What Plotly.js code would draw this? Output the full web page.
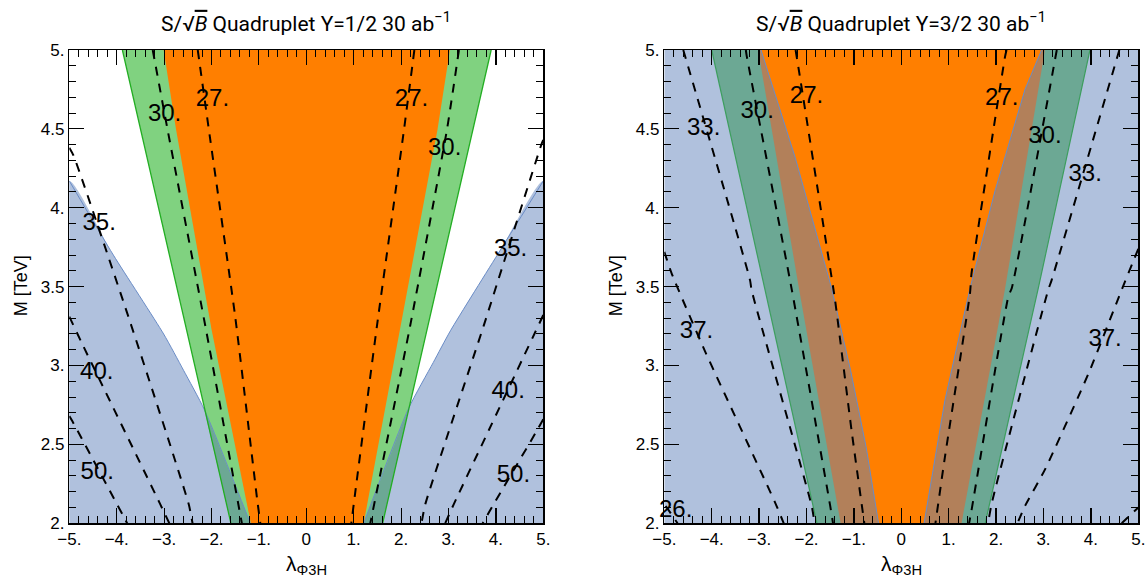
<!DOCTYPE html>
<html><head><meta charset="utf-8">
<script src="https://cdn.plot.ly/plotly-3.0.1.min.js"></script>
<style>html,body{margin:0;padding:0;background:#fff}#chart{width:1146px;height:581px}</style>
</head><body><div id="chart"></div>
<script>
// ---------- axes ----------
const xRange = [-5, 5];
const yRange = [2, 5];
const xTickVals = [-5, -4, -3, -2, -1, 0, 1, 2, 3, 4, 5];
const xTickText = ['−5.', '−4.', '−3.', '−2.', '−1.', '0', '1.', '2.', '3.', '4.', '5.'];
const yTickVals = [2, 2.5, 3, 3.5, 4, 4.5, 5];
const yTickText = ['2.', '2.5', '3.', '3.5', '4.', '4.5', '5.'];
const titles = ['S/√<span style="text-decoration:overline"><i>B</i></span> Quadruplet Y=1/2 30 ab<sup>−1</sup>',
                'S/√<span style="text-decoration:overline"><i>B</i></span> Quadruplet Y=3/2 30 ab<sup>−1</sup>'];
const xLabel = 'λ<sub>Φ3H</sub>';
const yLabel = 'M [TeV]';

// ---------- panel 1 : Y=1/2 ----------
const p1BlueLx = [-5, -4.07, -3.01, -2.59, -2.15, -1.18];
const p1BlueLy = [4.17, 3.70, 3.20, 2.97, 2.72, 2.0];
const p1BlueRx = [5, 4.09, 3.04, 2.68, 2.16, 1.21];
const p1BlueRy = [4.17, 3.73, 3.22, 3.02, 2.73, 2.0];
const p1GreenLx = [-3.88, -1.59];
const p1GreenLy = [5, 2];
const p1GreenRx = [3.90, 1.61];
const p1GreenRy = [5, 2];
const p1TealLx = [-2.15, -1.18, -1.59];
const p1TealLy = [2.72, 2.0, 2.0];
const p1TealRx = [2.16, 1.21, 1.61];
const p1TealRy = [2.73, 2.0, 2.0];
const p1OrangeLx = [-3.01, -2.75, -2.0, -1.17];
const p1OrangeLy = [5, 4.5, 3.23, 2.0];
const p1OrangeRx = [3.03, 2.77, 1.98, 1.21];
const p1OrangeRy = [5, 4.5, 3.23, 2.0];

// contours panel 1
const p1c27Lx = [-2.29, -2.03, -1.50, -1.04, -0.97];
const p1c27Ly = [5, 4.44, 3.31, 2.16, 2.0];
const p1c27Rx = [2.28, 2.05, 1.49, 1.03, 0.95];
const p1c27Ry = [5, 4.47, 3.25, 2.19, 2.0];
const p1c30Lx = [-3.24, -2.93, -2.13, -1.36];
const p1c30Ly = [5, 4.5, 3.25, 2.0];
const p1c30Rx = [3.22, 2.97, 2.19, 1.35];
const p1c30Ry = [5, 4.5, 3.25, 2.0];
const p1c35Lx = [-5, -4.91, -3.71, -2.48, -2.40];
const p1c35Ly = [4.38, 4.33, 3.27, 2.12, 2.0];
const p1c35Rx = [5, 4.97, 3.74, 2.51, 2.43];
const p1c35Ry = [4.43, 4.41, 3.25, 2.12, 2.0];
const p1c40Lx = [-5, -4.70, -3.08, -2.89];
const p1c40Ly = [3.31, 3.12, 2.12, 2.0];
const p1c40Rx = [5, 3.85, 3.11, 2.93];
const p1c40Ry = [3.32, 2.59, 2.12, 2.0];
const p1c50Lx = [-5, -4.94, -3.85, -3.78];
const p1c50Ly = [2.68, 2.65, 2.04, 2.0];
const p1c50Rx = [5, 4.87, 3.95, 3.72];
const p1c50Ry = [2.66, 2.59, 2.12, 2.0];
const p1LabText = ['27.', '27.', '30.', '30.', '35.', '35.', '40.', '40.', '50.', '50.'];
const p1LabX = [-1.98, 2.22, -2.99, 2.92, -4.37, 4.31, -4.42, 4.26, -4.41, 4.37];
const p1LabY = [4.68, 4.68, 4.59, 4.37, 3.90, 3.73, 2.95, 2.83, 2.32, 2.30];

// ---------- panel 2 : Y=3/2 ----------
const p2GreenLx = [-4.00, -2.88, -1.78];
const p2GreenLy = [5, 3.49, 2.0];
const p2GreenRx = [3.98, 2.89, 1.77];
const p2GreenRy = [5, 3.49, 2.0];
const p2OrangeLx = [-3.02, -2.16, -1.28];
const p2OrangeLy = [5, 3.49, 2.0];
const p2OrangeRx = [3.03, 2.19, 1.27];
const p2OrangeRy = [5, 3.49, 2.0];
const p2BlueLx = [-2.96, -2.24, -1.47, -1.07, -0.74, -0.48];
const p2BlueLy = [5, 4.32, 3.49, 2.97, 2.48, 2.0];
const p2BlueRx = [2.96, 2.61, 1.98, 1.45, 0.92, 0.70, 0.48];
const p2BlueRy = [5, 4.75, 4.11, 3.49, 2.78, 2.40, 2.0];

// contours panel 2
const p2c27Lx = [-2.23, -2.16, -1.54, -1.40, -1.05, -0.78];
const p2c27Ly = [5, 4.87, 3.69, 3.42, 2.59, 2.0];
const p2c27Rx = [2.22, 2.19, 1.48, 1.45, 0.92, 0.72];
const p2c27Ry = [5, 4.96, 3.58, 3.46, 2.42, 2.0];
const p2c30Lx = [-3.28, -3.26, -2.31, -1.50, -1.44];
const p2c30Ly = [5, 4.96, 3.48, 2.11, 2.0];
const p2c30Rx = [3.28, 2.33, 2.26, 1.48, 1.43];
const p2c30Ry = [5, 3.49, 3.44, 2.08, 2.0];
const p2c33Lx = [-4.60, -3.19, -3.16, -1.89, -1.83];
const p2c33Ly = [5, 3.54, 3.48, 2.11, 2.0];
const p2c33Rx = [4.60, 3.17, 3.10, 1.91, 1.83];
const p2c33Ry = [5, 3.54, 3.48, 2.13, 2.0];
const p2c37Lx = [-5, -4.84, -4.14, -2.66, -2.48];
const p2c37Ly = [3.72, 3.58, 3.09, 2.13, 2.0];
const p2c37Rx = [5, 4.65, 3.95, 3.03, 2.61, 2.45];
const p2c37Ry = [3.74, 3.48, 2.95, 2.34, 2.11, 2.0];
const p2c26Lx = [-4.97, -4.72];
const p2c26Ly = [2.11, 2.0];
const p2c26Rx = [4.65, 5];
const p2c26Ry = [2.0, 2.10];
const p2LabText = ['27.', '27.', '30.', '30.', '33.', '33.', '37.', '37.', '26.'];
const p2LabX = [-2.00, 2.12, -3.04, 3.03, -4.17, 3.88, -4.32, 4.30, -4.76];
const p2LabY = [4.70, 4.69, 4.61, 4.45, 4.50, 4.21, 3.21, 3.16, 2.08];

// ---------- styles ----------
const C = {
  blue: '#b0c1dd', blueEdge: '#6a8cc6',
  green: '#80d280', greenEdge: '#22ad22', greenEdge2: '#3d9e5e',
  teal: '#6ca894', brown: '#b2805a', orange: '#ff7f00'
};
const FONT = 'Liberation Sans, Arial, sans-serif';

const traces = [];
function fillPoly(xs, ys, color, ax, shape) {
  traces.push({type: 'scatter', mode: 'lines', x: xs, y: ys, fill: 'toself', fillcolor: color,
    line: {width: 0, color: color, shape: shape || 'linear', smoothing: 0.6},
    hoverinfo: 'skip', showlegend: false, xaxis: ax[0], yaxis: ax[1]});
}
function edge(xs, ys, color, w, ax, shape) {
  traces.push({type: 'scatter', mode: 'lines', x: xs, y: ys,
    line: {width: w, color: color, shape: shape || 'linear', smoothing: 0.6},
    hoverinfo: 'skip', showlegend: false, xaxis: ax[0], yaxis: ax[1]});
}
function dashed(xs, ys, ax) {
  traces.push({type: 'scatter', mode: 'lines', x: xs, y: ys,
    line: {width: 2, color: 'black', dash: '9px,8px', shape: 'spline', smoothing: 0.5},
    hoverinfo: 'skip', showlegend: false, xaxis: ax[0], yaxis: ax[1]});
}
function labels(xs, ys, ts, ax) {
  traces.push({type: 'scatter', mode: 'text', x: xs, y: ys, text: ts, textposition: 'middle center',
    textfont: {family: FONT, size: 24, color: 'black'}, cliponaxis: false,
    hoverinfo: 'skip', showlegend: false, xaxis: ax[0], yaxis: ax[1]});
}
const rev = a => a.slice().reverse();

// ---- panel 1 ----
const A1 = ['x', 'y'];
fillPoly([xRange[0], ...p1BlueLx], [yRange[0], ...p1BlueLy], C.blue, A1, 'spline');
fillPoly([xRange[1], ...p1BlueRx], [yRange[0], ...p1BlueRy], C.blue, A1, 'spline');
fillPoly([...p1GreenLx, ...rev(p1GreenRx)], [...p1GreenLy, ...rev(p1GreenRy)], C.green, A1);
fillPoly(p1TealLx, p1TealLy, C.teal, A1);
fillPoly(p1TealRx, p1TealRy, C.teal, A1);
edge(p1BlueLx, p1BlueLy, C.blueEdge, 1, A1, 'spline');
edge(p1BlueRx, p1BlueRy, C.blueEdge, 1, A1, 'spline');
edge(p1GreenLx, p1GreenLy, C.greenEdge, 1.3, A1);
edge(p1GreenRx, p1GreenRy, C.greenEdge, 1.3, A1);
fillPoly([...p1OrangeLx, ...rev(p1OrangeRx)], [...p1OrangeLy, ...rev(p1OrangeRy)], C.orange, A1);
[[p1c27Lx, p1c27Ly], [p1c27Rx, p1c27Ry], [p1c30Lx, p1c30Ly], [p1c30Rx, p1c30Ry],
 [p1c35Lx, p1c35Ly], [p1c35Rx, p1c35Ry], [p1c40Lx, p1c40Ly], [p1c40Rx, p1c40Ry],
 [p1c50Lx, p1c50Ly], [p1c50Rx, p1c50Ry]].forEach(c => dashed(c[0], c[1], A1));
labels(p1LabX, p1LabY, p1LabText, A1);

// ---- panel 2 ----
const A2 = ['x2', 'y2'];
fillPoly([xRange[0], xRange[1], xRange[1], xRange[0]], [yRange[0], yRange[0], yRange[1], yRange[1]], C.blue, A2);
fillPoly([...p2GreenLx, ...rev(p2GreenRx)], [...p2GreenLy, ...rev(p2GreenRy)], C.teal, A2);
fillPoly([...p2OrangeLx, ...rev(p2OrangeRx)], [...p2OrangeLy, ...rev(p2OrangeRy)], C.brown, A2);
fillPoly([...p2BlueLx, ...rev(p2BlueRx)], [...p2BlueLy, ...rev(p2BlueRy)], C.orange, A2);
edge(p2GreenLx, p2GreenLy, C.greenEdge2, 1.2, A2);
edge(p2GreenRx, p2GreenRy, C.greenEdge2, 1.2, A2);
edge(p2BlueLx, p2BlueLy, C.blueEdge, 1, A2);
edge(p2BlueRx, p2BlueRy, C.blueEdge, 1, A2);
[[p2c27Lx, p2c27Ly], [p2c27Rx, p2c27Ry], [p2c30Lx, p2c30Ly], [p2c30Rx, p2c30Ry],
 [p2c33Lx, p2c33Ly], [p2c33Rx, p2c33Ry], [p2c37Lx, p2c37Ly], [p2c37Rx, p2c37Ry],
 [p2c26Lx, p2c26Ly], [p2c26Rx, p2c26Ry]].forEach(c => dashed(c[0], c[1], A2));
labels(p2LabX, p2LabY, p2LabText, A2);

// ---------- layout ----------
const W = 1146, H = 581;
const dom1 = [69.3 / W, 543.3 / W];
const dom2 = [664.3 / W, 1138.3 / W];
const domY = [(H - 523.3) / H, (H - 50) / H];

function xax(dom, anchor) {
  return {domain: dom, anchor: anchor, range: xRange, tickmode: 'array', tickvals: xTickVals, ticktext: xTickText,
    ticks: 'inside', ticklen: 15, tickwidth: 1.2, tickcolor: 'black', mirror: 'allticks',
    showline: true, linecolor: 'black', linewidth: 1.4, showgrid: false, zeroline: false,
    tickfont: {family: FONT, size: 17, color: 'black'},
    minor: {tickmode: 'linear', tick0: -5, dtick: 0.2, ticks: 'inside', ticklen: 7, tickwidth: 1, tickcolor: 'black', showgrid: false}};
}
function yax(anchor) {
  return {domain: domY, anchor: anchor, range: yRange, tickmode: 'array', tickvals: yTickVals, ticktext: yTickText,
    ticks: 'inside', ticklen: 15, tickwidth: 1.2, tickcolor: 'black', mirror: 'allticks',
    showline: true, linecolor: 'black', linewidth: 1.4, showgrid: false, zeroline: false,
    tickfont: {family: FONT, size: 17, color: 'black'},
    minor: {tickmode: 'linear', tick0: 2, dtick: 0.1, ticks: 'inside', ticklen: 7, tickwidth: 1, tickcolor: 'black', showgrid: false}};
}

const ann = [];
[dom1, dom2].forEach((d, i) => {
  const cx = (d[0] + d[1]) / 2;
  ann.push({xref: 'paper', yref: 'paper', x: cx, y: 1 - 22 / H, xanchor: 'center', yanchor: 'middle',
    text: titles[i], showarrow: false, font: {family: 'Roboto, sans-serif', size: 21, color: 'black'}});
  ann.push({xref: 'paper', yref: 'paper', x: cx, y: 1 - 565 / H, xanchor: 'center', yanchor: 'middle',
    text: xLabel, showarrow: false, font: {family: FONT, size: 21, color: 'black'}});
  ann.push({xref: 'paper', yref: 'paper', x: (d[0] * W - 48) / W, y: 1 - 286 / H, xanchor: 'center', yanchor: 'middle',
    text: yLabel, textangle: -90, showarrow: false, font: {family: FONT, size: 18, color: 'black'}});
});

const layout = {
  width: W, height: H, margin: {l: 0, r: 0, t: 0, b: 0},
  paper_bgcolor: 'white', plot_bgcolor: 'white', showlegend: false,
  xaxis: xax(dom1, 'y'), yaxis: yax('x'),
  xaxis2: xax(dom2, 'y2'), yaxis2: yax('x2'),
  annotations: ann
};
Plotly.newPlot('chart', traces, layout, {displayModeBar: false, staticPlot: true});
</script></body></html>
